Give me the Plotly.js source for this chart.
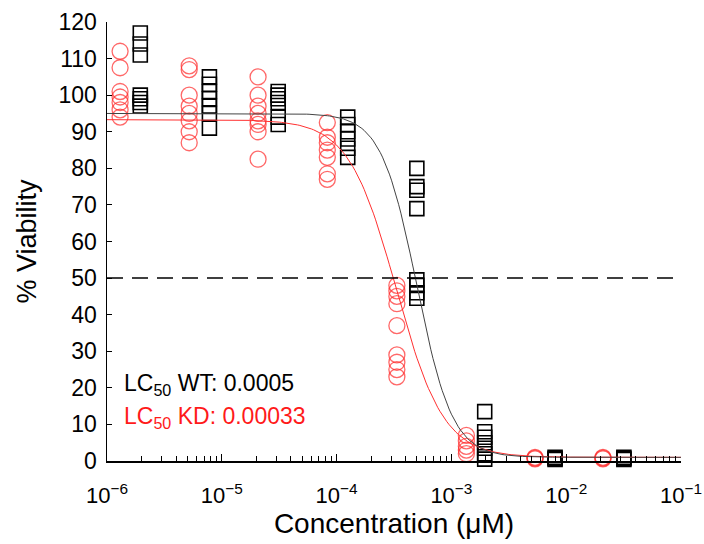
<!DOCTYPE html>
<html><head><meta charset="utf-8">
<script src="https://cdn.plot.ly/plotly-3.0.1.min.js"></script>
<style>html,body{margin:0;padding:0;background:#fff}</style>
</head><body><div id="chart" style="width:704px;height:544px"></div>
<script>
// Concentrations (µM) for each dilution step
const concKD = [1.3e-6, 5.2e-6, 2.07e-5, 8.3e-5, 3.35e-4, 1.35e-3, 5.35e-3, 2.09e-2];
const concWT = [1.95e-6, 7.8e-6, 3.1e-5, 1.25e-4, 5.0e-4, 1.95e-3, 8.0e-3, 3.18e-2];
// Replicate % viability values per concentration
const kdValues = [
  [112, 107.5, 101, 99.5, 98, 96, 94],
  [108, 107, 100, 97, 95, 93, 90, 87],
  [105, 100, 97, 95, 93, 92, 90, 82.5],
  [92.5, 88.5, 87, 85, 83, 78.5, 77],
  [48, 46.5, 45, 43, 37, 29, 27, 25, 23],
  [7, 5.5, 4, 3, 2],
  [1, 0.8, 0.6],
  [1, 0.8, 0.6]
];
const wtValues = [
  [117, 114, 111, 100, 99, 98, 97],
  [105, 103, 101, 99, 97, 95, 91],
  [101, 100, 99, 98, 94, 92],
  [94, 92, 90, 88, 85.5, 83],
  [80, 75, 74, 69, 49.5, 48, 46, 44.5],
  [13.5, 8, 6.5, 5, 3.5, 2, 0.5],
  [1, 0.7, 0.4],
  [1, 0.7, 0.4]
];
// Four-parameter logistic fit parameters
const fitWT = {top: 95, bottom: 1, lc50: 0.0005, hill: 2.8};
const fitKD = {top: 93.3, bottom: 1, lc50: 0.00033, hill: 2.1};
const lcLabels = ['LC<sub>50</sub> WT: 0.0005', 'LC<sub>50</sub> KD: 0.00033'];
const xTickVals = [1e-6, 1e-5, 1e-4, 1e-3, 1e-2, 1e-1];
const xTickText = ['10<sup>−6</sup>', '10<sup>−5</sup>', '10<sup>−4</sup>', '10<sup>−3</sup>', '10<sup>−2</sup>', '10<sup>−1</sup>'];
const yTickVals = [0,10,20,30,40,50,60,70,80,90,100,110,120];

function flatten(conc, vals){
  const x=[], y=[];
  conc.forEach((c,i)=>vals[i].forEach(v=>{x.push(c); y.push(v);}));
  return {x,y};
}
function curve(p){
  const x=[], y=[];
  for(let i=0;i<=250;i++){
    const lx = -6 + 5*i/250;
    const c = Math.pow(10,lx);
    x.push(c);
    y.push(p.bottom + (p.top-p.bottom)/(1+Math.pow(c/p.lc50,p.hill)));
  }
  return {x,y};
}
const kd = flatten(concKD, kdValues), wt = flatten(concWT, wtValues);
const ck = curve(fitKD), cw = curve(fitWT);

const traces = [
  {x: kd.x, y: kd.y, type:'scatter', mode:'markers', cliponaxis:false,
   marker:{symbol:'circle-open', size:16, color:'rgba(255,40,40,0.7)', line:{width:1.3}}},
  {x: wt.x, y: wt.y, type:'scatter', mode:'markers', cliponaxis:false,
   marker:{symbol:'square-open', size:14, color:'#000', line:{width:1.6}}},
  {x: ck.x, y: ck.y, type:'scatter', mode:'lines', line:{color:'#ff3030', width:1}},
  {x: cw.x, y: cw.y, type:'scatter', mode:'lines', line:{color:'#444', width:1}}
];
const fam = '"Liberation Sans", Arial, sans-serif';
const layout = {
  width:704, height:544, showlegend:false,
  margin:{l:107, r:23, t:22, b:83},
  paper_bgcolor:'#fff', plot_bgcolor:'#fff',
  font: {family:fam, color:'#000'},
  xaxis:{type:'log', range:[-6,-1], showline:true, linecolor:'#000', linewidth:1.5,
    ticks:'inside', ticklen:7, tickcolor:'#000', tickvals:xTickVals, ticktext:xTickText,
    ticklabelstandoff:14,
    showgrid:false, zeroline:false, tickfont:{size:22, family:fam, color:'#000'},
    minor:{ticks:'inside', ticklen:5, tickcolor:'#000', dtick:'D1', showgrid:false},
    title:{text:'Concentration (μM)', font:{size:28, family:fam, color:'#000'}, standoff:2}},
  yaxis:{range:[0,120], showline:true, linecolor:'#000', linewidth:1.5,
    ticks:'inside', ticklen:5, tickcolor:'#000', tickvals:yTickVals,
    ticklabelstandoff:4,
    showgrid:false, zeroline:false, tickfont:{size:23, family:fam, color:'#000'},
    title:{text:'% Viability', font:{size:27, family:fam, color:'#000'}, standoff:14}},
  shapes:[{type:'line', xref:'paper', x0:0, x1:1, yref:'y', y0:50, y1:50,
    line:{color:'#000', width:1.5, dash:'16px,9px'}}],
  annotations:[
    {xref:'paper', yref:'y', x:0.027, y:21, xanchor:'left', yanchor:'middle', showarrow:false,
     text: lcLabels[0], font:{size:23, color:'#000', family:fam}},
    {xref:'paper', yref:'y', x:0.027, y:12, xanchor:'left', yanchor:'middle', showarrow:false,
     text: lcLabels[1], font:{size:23, color:'#ff1a1a', family:fam}}
  ]
};
Plotly.newPlot('chart', traces, layout, {displayModeBar:false, staticPlot:true});
</script></body></html>
